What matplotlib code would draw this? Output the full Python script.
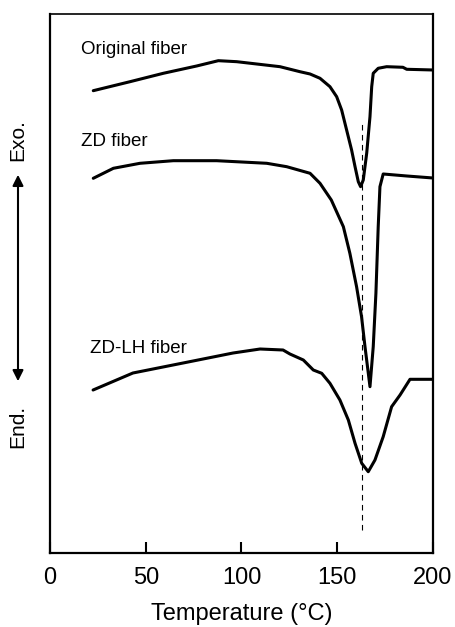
import matplotlib

matplotlib.use("Agg")

import matplotlib.pyplot as plt
from matplotlib.patches import FancyArrowPatch

plt.rcParams["font.family"] = ["Liberation Sans", "DejaVu Sans"]

# temperatures (deg C) and heat flow (arbitrary units)
orig_t = [22.6, 41.8, 59.2, 76.6, 87.9, 97.5, 107.9, 120.1, 130.5, 135.8,
          141.0, 146.2, 149.7, 152.3, 154.9, 157.5, 159.3, 161.0, 162.2,
          163.6, 165.4, 167.1, 168.0, 168.8, 171.4, 175.8, 184.3, 186.3, 200.0]
orig_y = [46.23, 47.13, 47.97, 48.7, 49.23, 49.13, 48.9, 48.63, 48.13, 47.9,
          47.47, 46.63, 45.63, 44.3, 42.3, 40.3, 38.63, 37.13, 36.63,
          37.3, 40.0, 43.63, 46.63, 47.97, 48.47, 48.63, 48.57, 48.37, 48.3]

zd_t = [22.6, 33.1, 47.0, 64.4, 87.0, 113.2, 123.6, 135.8, 141.0, 146.9,
        153.2, 156.6, 160.1, 162.7, 164.5, 167.1, 168.8, 170.2, 171.4, 172.3,
        174.0, 186.3, 200.0]
zd_y = [37.47, 38.47, 38.97, 39.23, 39.23, 38.97, 38.63, 37.97, 36.97, 35.3,
        32.63, 29.97, 26.63, 23.63, 20.63, 16.63, 20.63, 25.97, 32.63, 36.63,
        37.9, 37.7, 37.5]

zdlh_t = [22.5, 43.3, 69.5, 95.6, 109.7, 121.7, 125.3, 132.3, 137.5, 141.9,
          146.2, 151.4, 155.8, 159.3, 162.8, 166.2, 169.7, 174.0, 178.4,
          182.8, 188.0, 200.0]
zdlh_y = [16.3, 18.0, 19.0, 20.0, 20.4, 20.3, 19.9, 19.3, 18.3, 17.97,
          16.97, 15.3, 13.3, 10.97, 8.97, 8.13, 9.3, 11.63, 14.63,
          15.8, 17.37, 17.37]

curve_labels = ["Original fiber", "ZD fiber", "ZD-LH fiber"]
peak_t = 163.0
peak_span = [2.3, 43.3]

fig = plt.figure(figsize=(4.55, 6.27), dpi=100)
ax = fig.add_axes([0.1099, 0.118, 0.8417, 0.8597])

for t, y in [(orig_t, orig_y), (zd_t, zd_y), (zdlh_t, zdlh_y)]:
    ax.plot(t, y, color="black", linewidth=2.2, solid_joinstyle="round",
            solid_capstyle="round")

ax.plot([peak_t, peak_t], peak_span, color="black", linewidth=0.8,
        linestyle=(0, (5, 4)))

ax.text(16, 50.3, curve_labels[0], fontsize=13.5, va="center")
ax.text(16, 41.1, curve_labels[1], fontsize=13.5, va="center")
ax.text(21, 20.5, curve_labels[2], fontsize=13.5, va="center")

ax.set_xlim(0, 200)
ax.set_ylim(0, 53.9)
ax.set_xticks([0, 50, 100, 150, 200])
ax.set_yticks([])
ax.tick_params(axis="x", direction="in", length=8, width=1.5,
               labelsize=17, pad=10)
for s in ax.spines.values():
    s.set_linewidth(1.6)
ax.spines["top"].set_linewidth(1.2)
ax.set_xlabel("Temperature (\u00b0C)", fontsize=17, labelpad=10)

# Exo./End. indicator left of the axes
fig.text(18 / 455, 1 - 140 / 627, "Exo.", rotation=90, fontsize=15,
         ha="center", va="center")
fig.text(18 / 455, 1 - 426 / 627, "End.", rotation=90, fontsize=15,
         ha="center", va="center")
fig.patches.append(FancyArrowPatch(
    (18 / 455, 1 - 384 / 627), (18 / 455, 1 - 172 / 627),
    transform=fig.transFigure, arrowstyle="<|-|>", mutation_scale=16,
    color="black", linewidth=1.5))

fig.savefig("out.png", dpi=100)
plt.close(fig)
